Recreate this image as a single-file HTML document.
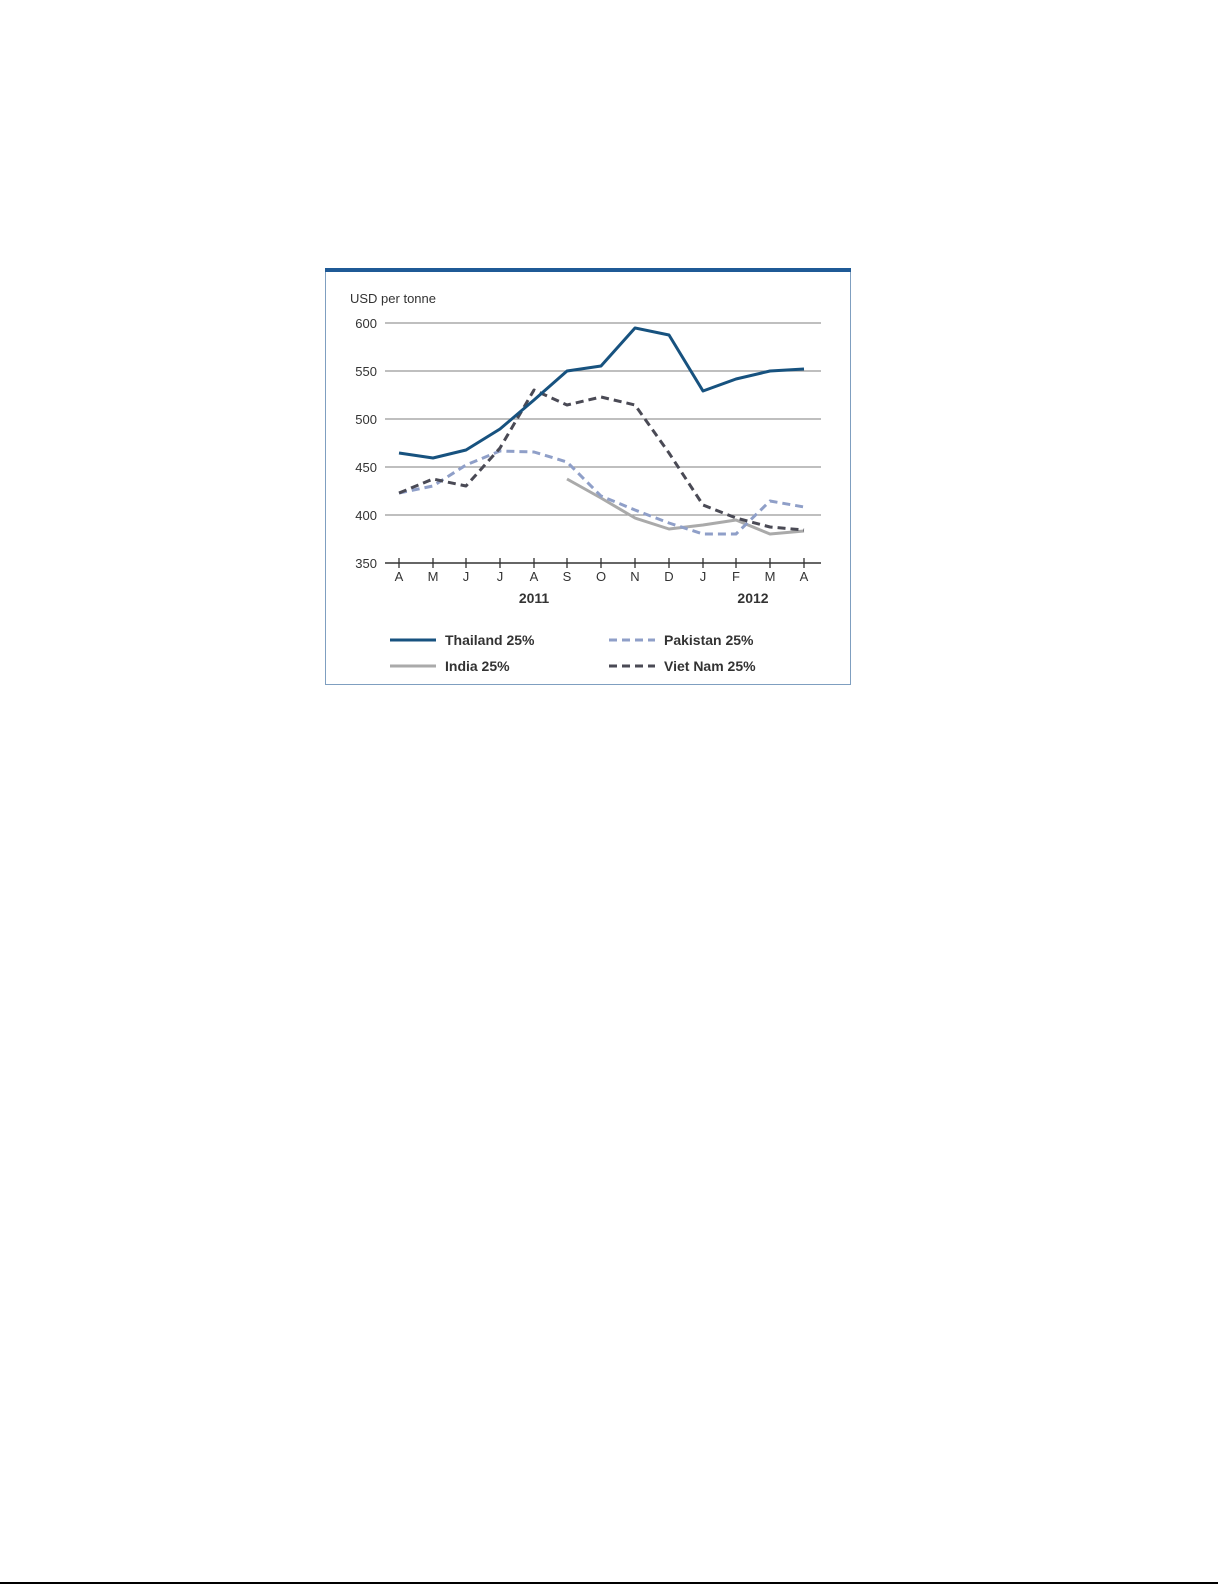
<!DOCTYPE html>
<html><head><style>body{margin:0;background:#fff}svg{display:block}</style></head><body>
<svg width="1225" height="1585" xmlns="http://www.w3.org/2000/svg" font-family="Liberation Sans, sans-serif">
<rect x="325.5" y="268.5" width="525" height="416" fill="#fff" stroke="#7f9fc0" stroke-width="1"/>
<rect x="325" y="268" width="526" height="4" fill="#1f5a96"/>
<text x="350" y="303" font-size="13" fill="#333">USD per tonne</text>
<g stroke="#999" stroke-width="1.3">
<line x1="385" y1="323" x2="821" y2="323"/><line x1="385" y1="371" x2="821" y2="371"/>
<line x1="385" y1="419" x2="821" y2="419"/><line x1="385" y1="467" x2="821" y2="467"/>
<line x1="385" y1="515" x2="821" y2="515"/></g>
<line x1="385" y1="563" x2="821" y2="563" stroke="#333" stroke-width="1.5"/>
<g font-size="13" fill="#333" text-anchor="end">
<text x="377" y="328">600</text><text x="377" y="376">550</text><text x="377" y="424">500</text>
<text x="377" y="472">450</text><text x="377" y="520">400</text><text x="377" y="568">350</text></g>
<g stroke="#333" stroke-width="1.3">
<line x1="399" y1="558" x2="399" y2="568"/><line x1="433" y1="558" x2="433" y2="568"/><line x1="466" y1="558" x2="466" y2="568"/><line x1="500" y1="558" x2="500" y2="568"/><line x1="534" y1="558" x2="534" y2="568"/><line x1="567" y1="558" x2="567" y2="568"/><line x1="601" y1="558" x2="601" y2="568"/><line x1="635" y1="558" x2="635" y2="568"/><line x1="669" y1="558" x2="669" y2="568"/><line x1="703" y1="558" x2="703" y2="568"/><line x1="736" y1="558" x2="736" y2="568"/><line x1="770" y1="558" x2="770" y2="568"/><line x1="804" y1="558" x2="804" y2="568"/></g>
<g font-size="13" fill="#333" text-anchor="middle">
<text x="399" y="581">A</text><text x="433" y="581">M</text><text x="466" y="581">J</text><text x="500" y="581">J</text><text x="534" y="581">A</text><text x="567" y="581">S</text><text x="601" y="581">O</text><text x="635" y="581">N</text><text x="669" y="581">D</text><text x="703" y="581">J</text><text x="736" y="581">F</text><text x="770" y="581">M</text><text x="804" y="581">A</text>
<text x="534" y="603" font-weight="bold" font-size="14">2011</text><text x="753" y="603" font-weight="bold" font-size="14">2012</text></g>
<g fill="none" stroke-width="3" stroke-linejoin="round">
<polyline stroke="#aaa" points="567,479 601,498 635,518 669,529 703,525 736,520 770,534 804,531"/>
<polyline stroke="#8f9fc8" stroke-dasharray="8,5" points="399,493 433,486 466,465 500,451 534,452 567,462 601,496 635,510 669,523 703,534 736,534 770,501 804,507"/>
<polyline stroke="#4a4a55" stroke-dasharray="8,5" points="399,493 433,479 466,486 500,448 534,390 567,405 601,397 635,405 669,453 703,505 736,518 770,527 804,530"/>
<polyline stroke="#17527f" points="399,453 433,458 466,450 500,429 534,400 567,371 601,366 635,328 669,335 703,391 736,379 770,371 804,369"/>
</g>
<g stroke-width="3">
<line x1="390" y1="640" x2="436" y2="640" stroke="#17527f"/>
<line x1="609" y1="640" x2="655" y2="640" stroke="#8f9fc8" stroke-dasharray="8,5"/>
<line x1="390" y1="666" x2="436" y2="666" stroke="#aaa"/>
<line x1="609" y1="666" x2="655" y2="666" stroke="#4a4a55" stroke-dasharray="8,5"/></g>
<g font-size="14" font-weight="bold" fill="#333">
<text x="445" y="645">Thailand 25%</text><text x="664" y="645">Pakistan 25%</text>
<text x="445" y="671">India 25%</text><text x="664" y="671">Viet Nam 25%</text></g>
<line x1="0" y1="1583" x2="1218" y2="1583" stroke="#000" stroke-width="2"/>
</svg>
</body></html>
